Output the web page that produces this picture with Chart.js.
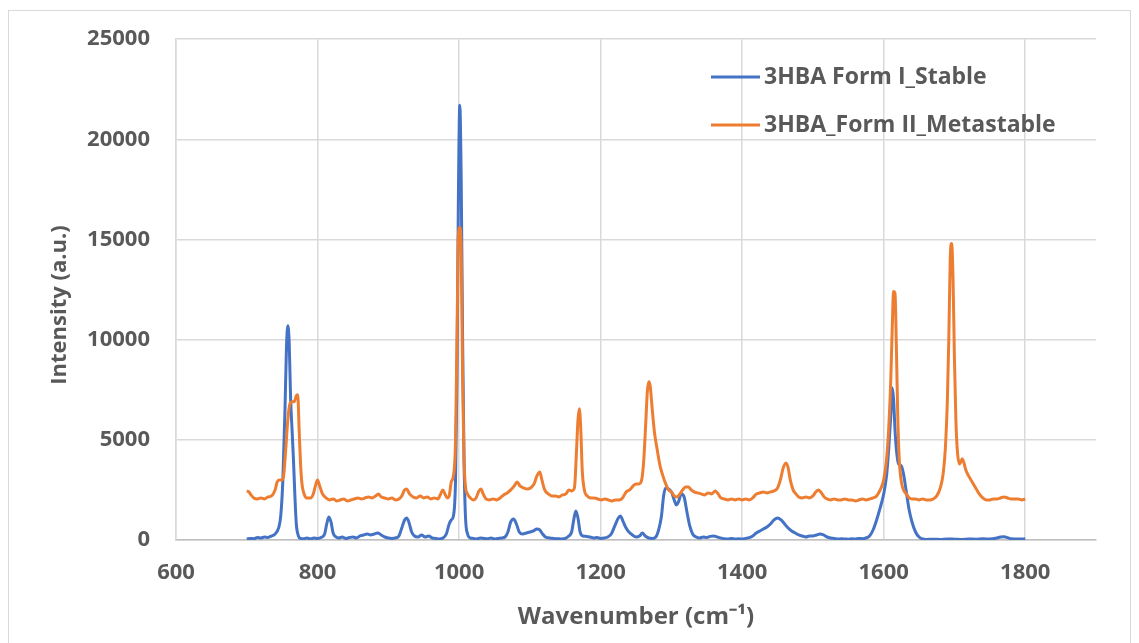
<!DOCTYPE html>
<html><head><meta charset="utf-8">
<script src="https://cdn.jsdelivr.net/npm/chart.js@4.4.0/dist/chart.umd.min.js"></script>
<style>
html,body{margin:0;padding:0;background:#fff;}
#wrap{position:relative;width:1139px;height:643px;overflow:hidden;}
#frame{position:absolute;left:8px;top:10px;width:1123px;height:640px;border:1px solid #d9d9d9;box-sizing:border-box;}
canvas{position:absolute;left:0;top:0;}
</style></head><body>
<div id="wrap"><div id="frame"></div><canvas id="c" width="1139" height="643"></canvas></div>
<script>
const seriesNames = ["3HBA Form I_Stable", "3HBA_Form II_Metastable"];
const xTickValues = [600, 800, 1000, 1200, 1400, 1600, 1800];
const yTickValues = [0, 5000, 10000, 15000, 20000, 25000];
const xTitle = "Wavenumber (cm⁻¹)";
const yTitle = "Intensity (a.u.)";

const formI_wn = [700,705,710,715,720,725,730,735,740,745,748,751,754,756,758,760,762,764,766,768,770,773,776,780,785,790,795,800,805,810,813,816,819,822,826,830,835,840,845,850,855,860,865,870,875,880,885,890,895,900,905,910,915,919,923,926,929,933,937,942,947,952,957,962,967,972,977,982,986,989,992,995,997,999,1001,1003,1005,1007,1009,1012,1016,1020,1025,1030,1035,1040,1045,1050,1055,1060,1065,1069,1073,1077,1081,1085,1090,1095,1100,1105,1110,1114,1118,1122,1128,1133,1140,1145,1150,1155,1159,1162,1165,1168,1171,1175,1180,1185,1190,1195,1200,1205,1210,1215,1220,1225,1228,1232,1236,1240,1245,1250,1255,1259,1263,1268,1273,1278,1282,1286,1289,1292,1296,1300,1304,1307,1310,1314,1318,1322,1326,1330,1335,1340,1345,1350,1355,1360,1365,1370,1375,1380,1385,1390,1395,1400,1405,1410,1415,1420,1425,1430,1435,1440,1445,1450,1455,1460,1465,1470,1475,1480,1485,1490,1495,1500,1505,1510,1515,1520,1525,1530,1535,1540,1545,1550,1555,1560,1565,1570,1575,1580,1585,1590,1595,1600,1604,1607,1610,1612,1614,1616,1618,1621,1625,1628,1632,1636,1640,1645,1650,1655,1660,1670,1680,1690,1700,1710,1720,1730,1740,1750,1760,1765,1770,1775,1780,1790,1800];
const formI_int = [50,80,60,120,100,150,130,200,300,600,1200,3000,6500,9500,10700,9800,7000,5500,4000,2200,800,200,80,60,100,50,100,80,120,300,800,1150,900,350,150,100,150,80,120,150,100,200,250,300,250,300,350,250,150,100,80,100,200,600,1000,1100,900,400,200,150,250,150,200,100,80,50,100,300,800,1000,1200,3000,8000,17000,21700,18000,10000,4000,1200,300,100,80,50,100,80,60,100,50,80,100,150,400,900,1050,800,400,300,350,400,450,550,500,300,150,100,80,60,50,80,200,400,1000,1450,1100,400,200,180,150,100,120,80,100,150,300,700,1100,1200,900,600,400,250,150,200,350,200,100,80,150,500,1200,2200,2600,2550,2400,2000,1750,1900,2300,2150,1400,700,300,150,100,150,120,180,200,150,100,60,50,80,50,60,50,80,120,200,350,450,550,650,800,1000,1100,1000,800,600,450,350,250,200,150,200,200,250,300,250,150,100,80,50,60,50,40,60,50,80,60,100,200,500,1000,1600,2300,3200,4500,6200,7600,7000,5500,4500,3800,3700,3300,2400,1500,900,400,150,50,30,40,30,50,40,30,50,40,60,50,100,150,160,120,60,50,60];

const formII_wn = [700,703,706,710,715,720,725,730,735,740,743,746,749,752,755,758,761,764,767,770,772,774,776,778,781,785,790,794,797,800,803,807,812,817,822,827,832,837,842,847,852,857,862,867,872,877,882,886,890,895,900,905,910,915,919,923,926,930,935,940,945,950,955,960,965,970,974,977,980,983,986,989,992,995,997,999,1001,1003,1005,1007,1009,1012,1016,1020,1024,1028,1031,1034,1038,1043,1048,1053,1058,1063,1068,1073,1078,1082,1086,1091,1096,1101,1106,1110,1114,1117,1121,1126,1131,1136,1141,1146,1151,1155,1159,1163,1166,1168,1170,1172,1174,1177,1181,1186,1191,1196,1201,1206,1211,1216,1221,1226,1231,1236,1241,1246,1250,1254,1258,1261,1264,1266,1268,1270,1273,1276,1280,1284,1288,1292,1296,1300,1304,1308,1312,1316,1320,1324,1328,1332,1337,1342,1347,1352,1357,1362,1366,1370,1375,1380,1385,1390,1395,1400,1405,1410,1415,1420,1425,1430,1435,1440,1445,1450,1454,1458,1462,1465,1468,1472,1476,1480,1485,1490,1495,1500,1504,1508,1512,1516,1520,1525,1530,1535,1540,1545,1550,1555,1560,1565,1570,1575,1580,1585,1590,1595,1600,1604,1607,1610,1612,1614,1616,1618,1620,1622,1625,1628,1632,1636,1640,1645,1650,1655,1660,1665,1670,1675,1680,1684,1687,1690,1692,1694,1696,1698,1700,1702,1704,1707,1709,1711,1713,1716,1720,1725,1730,1735,1740,1745,1750,1755,1760,1765,1770,1775,1780,1785,1790,1795,1800];
const formII_int = [2450,2400,2250,2100,2050,2100,2050,2150,2200,2500,2900,3000,3000,3200,4500,6000,6800,6900,6900,7200,7250,5500,3800,2800,2300,2100,2100,2300,2700,3000,2700,2300,2100,2000,2050,1950,2000,2050,1950,2000,2050,2100,2050,2100,2150,2100,2200,2300,2150,2100,2050,2100,2000,2050,2200,2500,2550,2300,2150,2100,2200,2100,2150,2050,2100,2050,2300,2500,2300,2100,2200,2900,3200,5000,10000,15200,15600,14500,8000,4000,2700,2300,2100,2000,2100,2450,2550,2300,2050,2000,2050,2000,2100,2250,2350,2500,2700,2900,2700,2600,2550,2600,2800,3200,3400,3000,2500,2300,2200,2200,2150,2250,2300,2500,2450,2600,4500,6000,6550,5500,3500,2500,2200,2100,2100,2050,2000,2050,2000,1950,2000,2000,2100,2400,2500,2700,2800,2800,3000,4000,6000,7400,7900,7700,6500,5400,4500,3700,3200,2800,2500,2400,2200,2150,2300,2500,2650,2650,2500,2400,2350,2300,2250,2350,2300,2450,2300,2100,2050,2000,2050,2000,2050,2000,2050,2000,2100,2300,2350,2400,2350,2400,2450,2600,3000,3600,3850,3600,3000,2500,2300,2150,2100,2150,2100,2200,2400,2500,2350,2150,2050,2000,2050,2000,2000,2050,2000,2000,1950,2000,2050,2000,2050,2100,2200,2500,3000,4000,5500,8000,10500,12400,12300,9500,6000,4000,2900,2500,2300,2100,2050,2050,2000,2050,2000,2000,2050,2200,2600,3300,4500,7000,10000,14000,14800,13000,9000,6000,4500,3800,3900,4050,3900,3500,3200,2900,2600,2300,2100,2000,2000,2050,2050,2100,2150,2100,2050,2050,2050,2000,2050];

const seriesColors = ["#4472C4", "#ED7D31"];
const textColor = "#595959";
const FONT = "'Open Sans', 'Liberation Sans', sans-serif";

const toPoints = (xs, ys) => xs.map((x, i) => ({x: x, y: ys[i]}));

const insideLegend = {
  id: 'insideLegend',
  afterDraw(chart) {
    const ctx = chart.ctx;
    ctx.save();
    chart.data.datasets.forEach((ds, i) => {
      const y = 77 + i * 48;
      ctx.strokeStyle = ds.borderColor;
      ctx.lineWidth = 3;
      ctx.beginPath(); ctx.moveTo(711, y); ctx.lineTo(760, y); ctx.stroke();
      ctx.fillStyle = textColor;
      ctx.font = "bold 23px " + FONT;
      ctx.textBaseline = 'middle';
      ctx.textAlign = 'left';
      ctx.fillText(ds.label, 764, y);
    });
    // vertical axis title
    ctx.translate(60, 305);
    ctx.rotate(-Math.PI / 2);
    ctx.font = "bold 22px " + FONT;
    ctx.textAlign = 'center';
    ctx.textBaseline = 'middle';
    ctx.fillText(yTitle, 0, 0);
    ctx.restore();
  }
};

new Chart(document.getElementById('c'), {
  type: 'scatter',
  data: {
    datasets: [
      {label: seriesNames[0], data: toPoints(formI_wn, formI_int), borderColor: seriesColors[0], backgroundColor: seriesColors[0], showLine: true, borderWidth: 3, pointRadius: 0, cubicInterpolationMode: 'monotone', order: 2},
      {label: seriesNames[1], data: toPoints(formII_wn, formII_int), borderColor: seriesColors[1], backgroundColor: seriesColors[1], showLine: true, borderWidth: 3, pointRadius: 0, cubicInterpolationMode: 'monotone', order: 1}
    ]
  },
  options: {
    responsive: false,
    animation: false,
    devicePixelRatio: 1,
    layout: {padding: {top: 37, right: 43, left: 0, bottom: 0}},
    plugins: {legend: {display: false}, tooltip: {enabled: false}},
    scales: {
      x: {
        type: 'linear', min: 600, max: 1900,
        afterFit: s => { s.height = 103; },
        afterBuildTicks: s => { s.ticks = xTickValues.map(v => ({value: v})); },
        ticks: {stepSize: 200, includeBounds: false, padding: 20, color: textColor, font: {family: FONT, size: 22, weight: 'bold'}, maxRotation: 0, callback: v => String(v)},
        grid: {color: '#d9d9d9', lineWidth: 1.5, drawTicks: false},
        border: {display: true, color: '#bfbfbf', width: 1.5},
        title: {display: true, text: xTitle, color: textColor, font: {family: FONT, size: 24, weight: 'bold'}, padding: {top: 0, bottom: 11}}
      },
      y: {
        min: 0, max: 25000,
        afterFit: s => { s.width = 176; },
        afterBuildTicks: s => { s.ticks = yTickValues.map(v => ({value: v})); },
        ticks: {stepSize: 5000, padding: 26, color: textColor, font: {family: FONT, size: 22, weight: 'bold'}, callback: v => String(v)},
        grid: {color: '#d9d9d9', lineWidth: 1.5, drawTicks: false},
        border: {display: true, color: '#d9d9d9', width: 1.5},
        title: {display: false}
      }
    }
  },
  plugins: [insideLegend]
});
</script>
</body></html>
